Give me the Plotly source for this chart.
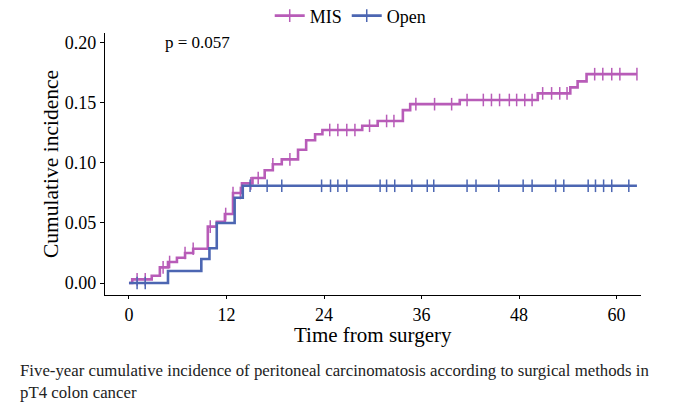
import numpy as np
import plotly.graph_objects as go

# MIS: step times (months) and cumulative incidence
mis_time = [0, 0.4, 2.8, 3.8, 4.8, 5.9, 6.9, 7.9, 9.7, 10.8, 11.8, 12.8, 13.9, 15.2,
            16.7, 17.7, 18.8, 20.8, 21.8, 22.9, 23.8, 28.7, 30.6, 33.7, 34.6, 40.7,
            50.3, 54.3, 55.2, 56.3, 62.5]
mis_ci = [0, 0.003, 0.006, 0.013, 0.0175, 0.021, 0.025, 0.0285, 0.047, 0.051, 0.0575,
          0.075, 0.083, 0.0875, 0.094, 0.099, 0.103, 0.111, 0.119, 0.124, 0.1275,
          0.131, 0.135, 0.144, 0.149, 0.1525, 0.158, 0.163, 0.168, 0.174, 0.174]
mis_censor = [1.0, 2.0, 4.2, 5.0, 6.9, 7.9, 10.0, 11.9, 12.8, 13.7, 15.0, 15.9, 17.7,
              19.8, 24.7, 25.7, 26.8, 27.8, 29.6, 31.7, 32.6, 35.3, 37.6, 39.7, 41.6,
              43.6, 44.6, 45.6, 46.8, 47.7, 48.7, 49.6, 50.9, 52.0, 53.0, 53.9, 57.3,
              58.3, 59.4, 60.4, 62.5]

# Open
open_time = [0, 4.8, 8.9, 9.9, 10.8, 13.0, 14.0, 62.5]
open_ci = [0, 0.01, 0.02, 0.029, 0.05, 0.071, 0.081, 0.081]
open_censor = [1.0, 2.0, 14.9, 17.0, 18.8, 23.7, 24.8, 25.7, 26.8, 30.9, 31.7, 32.7,
               34.8, 36.7, 37.5, 41.6, 42.7, 45.5, 48.5, 49.6, 52.5, 53.5, 56.5, 57.4,
               58.4, 59.4, 61.5]

x_ticks = [0, 12, 24, 36, 48, 60]
y_ticks = [0.00, 0.05, 0.10, 0.15, 0.20]

MIS_COL = "#B85CB8"
OPEN_COL = "#4C66B2"
serif = "Liberation Serif"


def at(times, vals, t):
    idx = np.searchsorted(np.array(times), np.array(t), side="right") - 1
    return np.array(vals)[idx]


fig = go.Figure()
for name, t, ci, cens, col in [("MIS", mis_time, mis_ci, mis_censor, MIS_COL),
                                ("Open", open_time, open_ci, open_censor, OPEN_COL)]:
    fig.add_trace(go.Scatter(x=t, y=ci, mode="lines", line=dict(color=col, width=2.6, shape="hv"),
                             showlegend=False, hoverinfo="skip"))
    fig.add_trace(go.Scatter(x=cens, y=at(t, ci, cens), mode="markers",
                             marker=dict(symbol="line-ns", size=9, line=dict(color=col, width=1.5)),
                             showlegend=False))
    # legend entry: line with a censor tick
    fig.add_trace(go.Scatter(x=[None], y=[None], mode="lines+markers", name=name,
                             line=dict(color=col, width=2.6),
                             marker=dict(symbol="line-ns", size=9, line=dict(color=col, width=1.5))))

fig.add_annotation(x=4.2, y=0.2, text="p = 0.057", showarrow=False, xanchor="left",
                   font=dict(family=serif, size=17, color="black"))

fig.add_annotation(xref="paper", yref="paper", x=0.5, y=-0.152, yanchor="middle",
                   showarrow=False, text="Time from surgery",
                   font=dict(family=serif, size=21, color="black"))

fig.add_annotation(xref="paper", yref="paper", x=-0.162, y=-0.245, xanchor="left", yanchor="top",
                   align="left", showarrow=False,
                   text="Five-year cumulative incidence of peritoneal carcinomatosis according to surgical methods in<br>pT4 colon cancer",
                   font=dict(family=serif, size=16.8, color="#222"))

fig.update_layout(
    width=680, height=419,
    margin=dict(l=97, r=47, t=25, b=132, autoexpand=False),
    plot_bgcolor="white", paper_bgcolor="white",
    font=dict(family=serif, color="black"),
    legend=dict(orientation="h", xref="container", yref="container", x=0.504, xanchor="center",
                y=0.981, yanchor="middle",
                font=dict(family=serif, size=18), itemwidth=30, tracegroupgap=0),
    xaxis=dict(range=[-2.95, 63], tickvals=x_ticks, ticktext=[str(v) for v in x_ticks],
               showline=True, linecolor="black", linewidth=1.3, ticks="outside", ticklen=3,
               tickcolor="black", showgrid=False, zeroline=False, automargin=False,
               tickfont=dict(family=serif, size=18, color="black")),
    yaxis=dict(range=[-0.01, 0.2083], tickvals=y_ticks, ticktext=["%.2f" % v for v in y_ticks],
               showline=True, linecolor="black", linewidth=1.3, ticks="outside", ticklen=4,
               tickcolor="black", showgrid=False, zeroline=False, automargin=False,
               tickfont=dict(family=serif, size=18, color="black"),
               title=dict(text="Cumulative incidence", font=dict(family=serif, size=21.5), standoff=0)),
)

fig.write_html("out.html")
